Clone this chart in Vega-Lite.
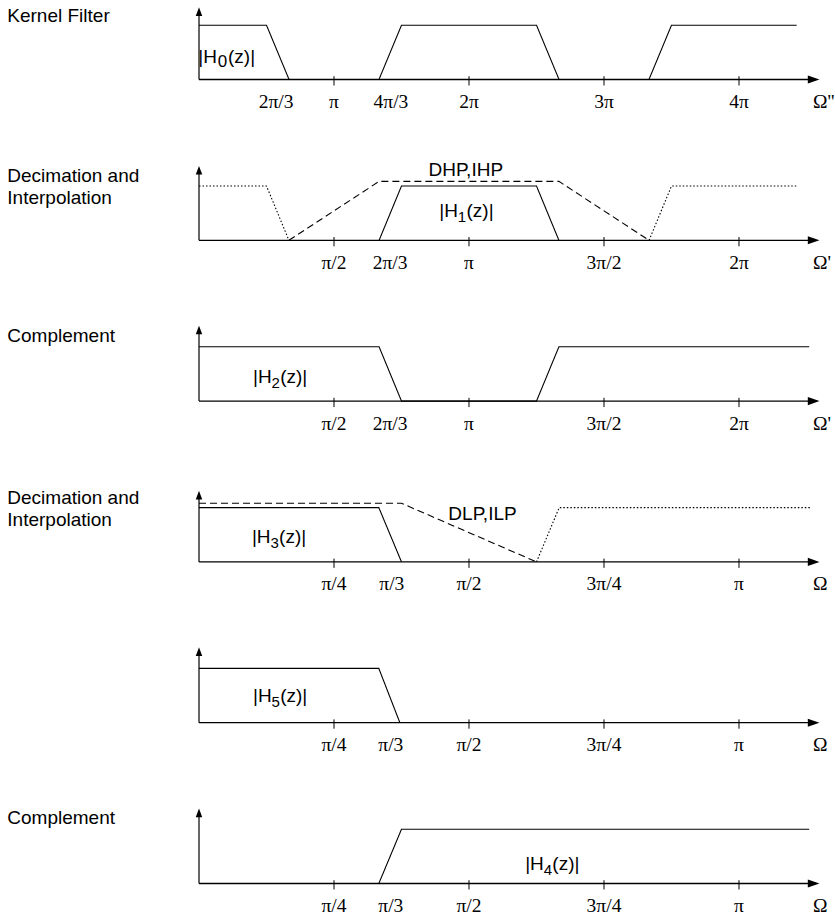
{
  "$schema": "https://vega.github.io/schema/vega-lite/v6.json",
  "padding": {"top": 1.5, "left": 0, "right": 0, "bottom": 0},
  "background": "white",
  "bounds": "flush",
  "spacing": 48.8,
  "config": {"view": {"stroke": null}},
  "resolve": {"scale": {"x": "independent", "y": "independent", "strokeDash": "independent"}},
  "vconcat": [
    {
      "width": 835, "height": 112,
      "layer": [
        {"data": {"values": [{}]}, "mark": {"type": "rule", "color": "black", "strokeWidth": 1.3}, "encoding": {"x": {"datum": 0, "type": "quantitative", "scale": {"domain": [-1.4741, 4.7111], "nice": false, "zero": false}, "axis": null}, "x2": {"datum": 4.53}, "y": {"datum": 0, "type": "quantitative", "scale": {"domain": [-0.626, 1.4365], "nice": false, "zero": false}, "axis": null}}},
        {"data": {"values": [{}]}, "mark": {"type": "rule", "color": "black", "strokeWidth": 1.2}, "encoding": {"x": {"datum": 0, "type": "quantitative", "scale": {"domain": [-1.4741, 4.7111], "nice": false, "zero": false}, "axis": null}, "y": {"datum": 0, "type": "quantitative", "scale": {"domain": [-0.626, 1.4365], "nice": false, "zero": false}, "axis": null}, "y2": {"datum": 1.24}}},
        {"data": {"values": [{}]}, "mark": {"type": "point", "shape": "M0,0L-2,-0.7L-2,0.7Z", "filled": true, "color": "black", "opacity": 1, "size": 135}, "encoding": {"x": {"datum": 4.596, "type": "quantitative", "scale": {"domain": [-1.4741, 4.7111], "nice": false, "zero": false}, "axis": null}, "y": {"datum": 0, "type": "quantitative", "scale": {"domain": [-0.626, 1.4365], "nice": false, "zero": false}, "axis": null}}},
        {"data": {"values": [{}]}, "mark": {"type": "point", "shape": "M0,0L0.75,2L-0.75,2Z", "filled": true, "color": "black", "opacity": 1, "size": 75}, "encoding": {"x": {"datum": 0, "type": "quantitative", "scale": {"domain": [-1.4741, 4.7111], "nice": false, "zero": false}, "axis": null}, "y": {"datum": 1.33, "type": "quantitative", "scale": {"domain": [-0.626, 1.4365], "nice": false, "zero": false}, "axis": null}}},
        {"data": {"values": [{"x": 1, "label": "π"}, {"x": 2, "label": "2π"}, {"x": 3, "label": "3π"}, {"x": 4, "label": "4π"}]}, "mark": {"type": "rule", "color": "black", "strokeWidth": 1}, "encoding": {"x": {"field": "x", "type": "quantitative", "scale": {"domain": [-1.4741, 4.7111], "nice": false, "zero": false}, "axis": null}, "y": {"datum": 0.061, "type": "quantitative", "scale": {"domain": [-0.626, 1.4365], "nice": false, "zero": false}, "axis": null}, "y2": {"datum": -0.11}}},
        {"data": {"values": [{"x": 1, "label": "π"}, {"x": 2, "label": "2π"}, {"x": 3, "label": "3π"}, {"x": 4, "label": "4π"}]}, "mark": {"type": "text", "font": "Liberation Serif", "fontSize": 19.5, "dy": 28.5, "baseline": "alphabetic", "align": "center", "color": "black"}, "encoding": {"x": {"field": "x", "type": "quantitative", "scale": {"domain": [-1.4741, 4.7111], "nice": false, "zero": false}, "axis": null}, "y": {"datum": 0, "type": "quantitative", "scale": {"domain": [-0.626, 1.4365], "nice": false, "zero": false}, "axis": null}, "text": {"field": "label"}}},
        {"data": {"values": [{"x": 0.667, "label": "2π/3"}]}, "mark": {"type": "text", "font": "Liberation Serif", "fontSize": 19.5, "dy": 28.5, "dx": -13, "baseline": "alphabetic", "align": "center", "color": "black"}, "encoding": {"x": {"field": "x", "type": "quantitative", "scale": {"domain": [-1.4741, 4.7111], "nice": false, "zero": false}, "axis": null}, "y": {"datum": 0, "type": "quantitative", "scale": {"domain": [-0.626, 1.4365], "nice": false, "zero": false}, "axis": null}, "text": {"field": "label"}}},
        {"data": {"values": [{"x": 1.333, "label": "4π/3"}]}, "mark": {"type": "text", "font": "Liberation Serif", "fontSize": 19.5, "dy": 28.5, "dx": 12, "baseline": "alphabetic", "align": "center", "color": "black"}, "encoding": {"x": {"field": "x", "type": "quantitative", "scale": {"domain": [-1.4741, 4.7111], "nice": false, "zero": false}, "axis": null}, "y": {"datum": 0, "type": "quantitative", "scale": {"domain": [-0.626, 1.4365], "nice": false, "zero": false}, "axis": null}, "text": {"field": "label"}}},
        {"data": {"values": [{"x": 4.548, "label": "Ω''"}]}, "mark": {"type": "text", "font": "Liberation Serif", "fontSize": 19.5, "dy": 28.5, "baseline": "alphabetic", "align": "left", "color": "black"}, "encoding": {"x": {"field": "x", "type": "quantitative", "scale": {"domain": [-1.4741, 4.7111], "nice": false, "zero": false}, "axis": null}, "y": {"datum": 0, "type": "quantitative", "scale": {"domain": [-0.626, 1.4365], "nice": false, "zero": false}, "axis": null}, "text": {"field": "label"}}},
        {"data": {"values": [
          {"x": 0, "y": 1, "role": "filter", "piece": "H0"}, {"x": 0.5, "y": 1, "role": "filter", "piece": "H0"},
          {"x": 0.667, "y": 0, "role": "filter", "piece": "H0"}, {"x": 1.333, "y": 0, "role": "filter", "piece": "H0"},
          {"x": 1.5, "y": 1, "role": "filter", "piece": "H0"}, {"x": 2.5, "y": 1, "role": "filter", "piece": "H0"},
          {"x": 2.667, "y": 0, "role": "filter", "piece": "H0"}, {"x": 3.333, "y": 0, "role": "filter", "piece": "H0"},
          {"x": 3.5, "y": 1, "role": "filter", "piece": "H0"}, {"x": 4.427, "y": 1, "role": "filter", "piece": "H0"}
         ]},
         "mark": {"type": "line", "color": "black", "strokeWidth": 1.1},
         "encoding": {"x": {"field": "x", "type": "quantitative", "scale": {"domain": [-1.4741, 4.7111], "nice": false, "zero": false}, "axis": null}, "y": {"field": "y", "type": "quantitative", "scale": {"domain": [-0.626, 1.4365], "nice": false, "zero": false}, "axis": null}, "detail": {"field": "piece"}, "strokeDash": {"field": "role", "type": "nominal", "scale": {"domain": ["filter", "bound", "image"], "range": [[1, 0], [7, 4], [1.5, 2]]}, "legend": null}}},
        {"data": {"values": [{"x": 0.174, "y": 0.295, "pre": "|H", "sub": "0", "post": "(z)|"}]},
         "encoding": {"x": {"field": "x", "type": "quantitative", "scale": {"domain": [-1.4741, 4.7111], "nice": false, "zero": false}, "axis": null}, "y": {"field": "y", "type": "quantitative", "scale": {"domain": [-0.626, 1.4365], "nice": false, "zero": false}, "axis": null}},
         "layer": [
           {"mark": {"type": "text", "font": "Liberation Sans", "fontSize": 19, "baseline": "alphabetic", "align": "right", "dx": -5.5, "color": "black"}, "encoding": {"text": {"field": "pre"}}},
           {"mark": {"type": "text", "font": "Liberation Sans", "fontSize": 17, "baseline": "alphabetic", "align": "center", "dy": 4, "color": "black"}, "encoding": {"text": {"field": "sub"}}},
           {"mark": {"type": "text", "font": "Liberation Sans", "fontSize": 19, "baseline": "alphabetic", "align": "left", "dx": 5.5, "color": "black"}, "encoding": {"text": {"field": "post"}}}
         ]},
        {"data": {"values": [{"x": -1.42, "y": 1.061, "label": "Kernel Filter"}]}, "mark": {"type": "text", "font": "Liberation Sans", "fontSize": 19, "baseline": "alphabetic", "align": "left", "color": "black"}, "encoding": {"x": {"field": "x", "type": "quantitative", "scale": {"domain": [-1.4741, 4.7111], "nice": false, "zero": false}, "axis": null}, "y": {"field": "y", "type": "quantitative", "scale": {"domain": [-0.626, 1.4365], "nice": false, "zero": false}, "axis": null}, "text": {"field": "label"}}}
      ]
    },
    {
      "width": 835, "height": 112,
      "layer": [
        {"data": {"values": [{}]}, "mark": {"type": "rule", "color": "black", "strokeWidth": 1.3}, "encoding": {"x": {"datum": 0, "type": "quantitative", "scale": {"domain": [-0.73704, 2.35556], "nice": false, "zero": false}, "axis": null}, "x2": {"datum": 2.265}, "y": {"datum": 0, "type": "quantitative", "scale": {"domain": [-0.626, 1.4365], "nice": false, "zero": false}, "axis": null}}},
        {"data": {"values": [{}]}, "mark": {"type": "rule", "color": "black", "strokeWidth": 1.2}, "encoding": {"x": {"datum": 0, "type": "quantitative", "scale": {"domain": [-0.73704, 2.35556], "nice": false, "zero": false}, "axis": null}, "y": {"datum": 0, "type": "quantitative", "scale": {"domain": [-0.626, 1.4365], "nice": false, "zero": false}, "axis": null}, "y2": {"datum": 1.28}}},
        {"data": {"values": [{}]}, "mark": {"type": "point", "shape": "M0,0L-2,-0.7L-2,0.7Z", "filled": true, "color": "black", "opacity": 1, "size": 135}, "encoding": {"x": {"datum": 2.298, "type": "quantitative", "scale": {"domain": [-0.73704, 2.35556], "nice": false, "zero": false}, "axis": null}, "y": {"datum": 0, "type": "quantitative", "scale": {"domain": [-0.626, 1.4365], "nice": false, "zero": false}, "axis": null}}},
        {"data": {"values": [{}]}, "mark": {"type": "point", "shape": "M0,0L0.75,2L-0.75,2Z", "filled": true, "color": "black", "opacity": 1, "size": 75}, "encoding": {"x": {"datum": 0, "type": "quantitative", "scale": {"domain": [-0.73704, 2.35556], "nice": false, "zero": false}, "axis": null}, "y": {"datum": 1.37, "type": "quantitative", "scale": {"domain": [-0.626, 1.4365], "nice": false, "zero": false}, "axis": null}}},
        {"data": {"values": [{"x": 0.5, "label": "π/2"}, {"x": 1, "label": "π"}, {"x": 1.5, "label": "3π/2"}, {"x": 2, "label": "2π"}]}, "mark": {"type": "rule", "color": "black", "strokeWidth": 1}, "encoding": {"x": {"field": "x", "type": "quantitative", "scale": {"domain": [-0.73704, 2.35556], "nice": false, "zero": false}, "axis": null}, "y": {"datum": 0.061, "type": "quantitative", "scale": {"domain": [-0.626, 1.4365], "nice": false, "zero": false}, "axis": null}, "y2": {"datum": -0.11}}},
        {"data": {"values": [{"x": 0.5, "label": "π/2"}, {"x": 1, "label": "π"}, {"x": 1.5, "label": "3π/2"}, {"x": 2, "label": "2π"}]}, "mark": {"type": "text", "font": "Liberation Serif", "fontSize": 19.5, "dy": 28.5, "baseline": "alphabetic", "align": "center", "color": "black"}, "encoding": {"x": {"field": "x", "type": "quantitative", "scale": {"domain": [-0.73704, 2.35556], "nice": false, "zero": false}, "axis": null}, "y": {"datum": 0, "type": "quantitative", "scale": {"domain": [-0.626, 1.4365], "nice": false, "zero": false}, "axis": null}, "text": {"field": "label"}}},
        {"data": {"values": [{"x": 0.667, "label": "2π/3"}]}, "mark": {"type": "text", "font": "Liberation Serif", "fontSize": 19.5, "dy": 28.5, "dx": 11, "baseline": "alphabetic", "align": "center", "color": "black"}, "encoding": {"x": {"field": "x", "type": "quantitative", "scale": {"domain": [-0.73704, 2.35556], "nice": false, "zero": false}, "axis": null}, "y": {"datum": 0, "type": "quantitative", "scale": {"domain": [-0.626, 1.4365], "nice": false, "zero": false}, "axis": null}, "text": {"field": "label"}}},
        {"data": {"values": [{"x": 2.274, "label": "Ω'"}]}, "mark": {"type": "text", "font": "Liberation Serif", "fontSize": 19.5, "dy": 28.5, "baseline": "alphabetic", "align": "left", "color": "black"}, "encoding": {"x": {"field": "x", "type": "quantitative", "scale": {"domain": [-0.73704, 2.35556], "nice": false, "zero": false}, "axis": null}, "y": {"datum": 0, "type": "quantitative", "scale": {"domain": [-0.626, 1.4365], "nice": false, "zero": false}, "axis": null}, "text": {"field": "label"}}},
        {"data": {"values": [
          {"x": 0, "y": 1, "role": "image", "piece": "imgL"}, {"x": 0.25, "y": 1, "role": "image", "piece": "imgL"}, {"x": 0.333, "y": 0, "role": "image", "piece": "imgL"},
          {"x": 0.333, "y": 0, "role": "bound", "piece": "bound"}, {"x": 0.667, "y": 1.085, "role": "bound", "piece": "bound"}, {"x": 1.333, "y": 1.085, "role": "bound", "piece": "bound"}, {"x": 1.667, "y": 0, "role": "bound", "piece": "bound"},
          {"x": 0.667, "y": 0, "role": "filter", "piece": "H1"}, {"x": 0.75, "y": 1, "role": "filter", "piece": "H1"}, {"x": 1.25, "y": 1, "role": "filter", "piece": "H1"}, {"x": 1.333, "y": 0, "role": "filter", "piece": "H1"},
          {"x": 1.667, "y": 0, "role": "image", "piece": "imgR"}, {"x": 1.75, "y": 1, "role": "image", "piece": "imgR"}, {"x": 2.215, "y": 1, "role": "image", "piece": "imgR"}
         ]},
         "mark": {"type": "line", "color": "black", "strokeWidth": 1.1},
         "encoding": {"x": {"field": "x", "type": "quantitative", "scale": {"domain": [-0.73704, 2.35556], "nice": false, "zero": false}, "axis": null}, "y": {"field": "y", "type": "quantitative", "scale": {"domain": [-0.626, 1.4365], "nice": false, "zero": false}, "axis": null}, "detail": {"field": "piece"}, "strokeDash": {"field": "role", "type": "nominal", "scale": {"domain": ["filter", "bound", "image"], "range": [[1, 0], [7, 4], [1.5, 2]]}, "legend": null}}},
        {"data": {"values": [{"x": 0.988, "y": 1.184, "label": "DHP,IHP"}]}, "mark": {"type": "text", "font": "Liberation Sans", "fontSize": 19, "baseline": "alphabetic", "align": "center", "color": "black"}, "encoding": {"x": {"field": "x", "type": "quantitative", "scale": {"domain": [-0.73704, 2.35556], "nice": false, "zero": false}, "axis": null}, "y": {"field": "y", "type": "quantitative", "scale": {"domain": [-0.626, 1.4365], "nice": false, "zero": false}, "axis": null}, "text": {"field": "label"}}},
        {"data": {"values": [{"x": 0.974, "y": 0.424, "pre": "|H", "sub": "1", "post": "(z)|"}]},
         "encoding": {"x": {"field": "x", "type": "quantitative", "scale": {"domain": [-0.73704, 2.35556], "nice": false, "zero": false}, "axis": null}, "y": {"field": "y", "type": "quantitative", "scale": {"domain": [-0.626, 1.4365], "nice": false, "zero": false}, "axis": null}},
         "layer": [
           {"mark": {"type": "text", "font": "Liberation Sans", "fontSize": 19, "baseline": "alphabetic", "align": "right", "dx": -4, "color": "black"}, "encoding": {"text": {"field": "pre"}}},
           {"mark": {"type": "text", "font": "Liberation Sans", "fontSize": 15, "baseline": "alphabetic", "align": "center", "dy": 5, "color": "black"}, "encoding": {"text": {"field": "sub"}}},
           {"mark": {"type": "text", "font": "Liberation Sans", "fontSize": 19, "baseline": "alphabetic", "align": "left", "dx": 4.5, "color": "black"}, "encoding": {"text": {"field": "post"}}}
         ]},
        {"data": {"values": [{"x": -0.71, "y": 1.07, "label": "Decimation and"}, {"x": -0.71, "y": 0.66, "label": "Interpolation"}]}, "mark": {"type": "text", "font": "Liberation Sans", "fontSize": 19, "baseline": "alphabetic", "align": "left", "color": "black"}, "encoding": {"x": {"field": "x", "type": "quantitative", "scale": {"domain": [-0.73704, 2.35556], "nice": false, "zero": false}, "axis": null}, "y": {"field": "y", "type": "quantitative", "scale": {"domain": [-0.626, 1.4365], "nice": false, "zero": false}, "axis": null}, "text": {"field": "label"}}}
      ]
    },
    {
      "width": 835, "height": 112,
      "layer": [
        {"data": {"values": [{}]}, "mark": {"type": "rule", "color": "black", "strokeWidth": 1.3}, "encoding": {"x": {"datum": 0, "type": "quantitative", "scale": {"domain": [-0.73704, 2.35556], "nice": false, "zero": false}, "axis": null}, "x2": {"datum": 2.265}, "y": {"datum": 0, "type": "quantitative", "scale": {"domain": [-0.626, 1.4365], "nice": false, "zero": false}, "axis": null}}},
        {"data": {"values": [{}]}, "mark": {"type": "rule", "color": "black", "strokeWidth": 1.2}, "encoding": {"x": {"datum": 0, "type": "quantitative", "scale": {"domain": [-0.73704, 2.35556], "nice": false, "zero": false}, "axis": null}, "y": {"datum": 0, "type": "quantitative", "scale": {"domain": [-0.626, 1.4365], "nice": false, "zero": false}, "axis": null}, "y2": {"datum": 1.3}}},
        {"data": {"values": [{}]}, "mark": {"type": "point", "shape": "M0,0L-2,-0.7L-2,0.7Z", "filled": true, "color": "black", "opacity": 1, "size": 135}, "encoding": {"x": {"datum": 2.298, "type": "quantitative", "scale": {"domain": [-0.73704, 2.35556], "nice": false, "zero": false}, "axis": null}, "y": {"datum": 0, "type": "quantitative", "scale": {"domain": [-0.626, 1.4365], "nice": false, "zero": false}, "axis": null}}},
        {"data": {"values": [{}]}, "mark": {"type": "point", "shape": "M0,0L0.75,2L-0.75,2Z", "filled": true, "color": "black", "opacity": 1, "size": 75}, "encoding": {"x": {"datum": 0, "type": "quantitative", "scale": {"domain": [-0.73704, 2.35556], "nice": false, "zero": false}, "axis": null}, "y": {"datum": 1.39, "type": "quantitative", "scale": {"domain": [-0.626, 1.4365], "nice": false, "zero": false}, "axis": null}}},
        {"data": {"values": [{"x": 0.5, "label": "π/2"}, {"x": 1, "label": "π"}, {"x": 1.5, "label": "3π/2"}, {"x": 2, "label": "2π"}]}, "mark": {"type": "rule", "color": "black", "strokeWidth": 1}, "encoding": {"x": {"field": "x", "type": "quantitative", "scale": {"domain": [-0.73704, 2.35556], "nice": false, "zero": false}, "axis": null}, "y": {"datum": 0.061, "type": "quantitative", "scale": {"domain": [-0.626, 1.4365], "nice": false, "zero": false}, "axis": null}, "y2": {"datum": -0.11}}},
        {"data": {"values": [{"x": 0.5, "label": "π/2"}, {"x": 1, "label": "π"}, {"x": 1.5, "label": "3π/2"}, {"x": 2, "label": "2π"}]}, "mark": {"type": "text", "font": "Liberation Serif", "fontSize": 19.5, "dy": 28.5, "baseline": "alphabetic", "align": "center", "color": "black"}, "encoding": {"x": {"field": "x", "type": "quantitative", "scale": {"domain": [-0.73704, 2.35556], "nice": false, "zero": false}, "axis": null}, "y": {"datum": 0, "type": "quantitative", "scale": {"domain": [-0.626, 1.4365], "nice": false, "zero": false}, "axis": null}, "text": {"field": "label"}}},
        {"data": {"values": [{"x": 0.667, "label": "2π/3"}]}, "mark": {"type": "text", "font": "Liberation Serif", "fontSize": 19.5, "dy": 28.5, "dx": 11, "baseline": "alphabetic", "align": "center", "color": "black"}, "encoding": {"x": {"field": "x", "type": "quantitative", "scale": {"domain": [-0.73704, 2.35556], "nice": false, "zero": false}, "axis": null}, "y": {"datum": 0, "type": "quantitative", "scale": {"domain": [-0.626, 1.4365], "nice": false, "zero": false}, "axis": null}, "text": {"field": "label"}}},
        {"data": {"values": [{"x": 2.274, "label": "Ω'"}]}, "mark": {"type": "text", "font": "Liberation Serif", "fontSize": 19.5, "dy": 28.5, "baseline": "alphabetic", "align": "left", "color": "black"}, "encoding": {"x": {"field": "x", "type": "quantitative", "scale": {"domain": [-0.73704, 2.35556], "nice": false, "zero": false}, "axis": null}, "y": {"datum": 0, "type": "quantitative", "scale": {"domain": [-0.626, 1.4365], "nice": false, "zero": false}, "axis": null}, "text": {"field": "label"}}},
        {"data": {"values": [
          {"x": 0, "y": 1, "role": "filter", "piece": "H2"}, {"x": 0.667, "y": 1, "role": "filter", "piece": "H2"},
          {"x": 0.75, "y": 0, "role": "filter", "piece": "H2"}, {"x": 1.25, "y": 0, "role": "filter", "piece": "H2"},
          {"x": 1.333, "y": 1, "role": "filter", "piece": "H2"}, {"x": 2.26, "y": 1, "role": "filter", "piece": "H2"}
         ]},
         "mark": {"type": "line", "color": "black", "strokeWidth": 1.1},
         "encoding": {"x": {"field": "x", "type": "quantitative", "scale": {"domain": [-0.73704, 2.35556], "nice": false, "zero": false}, "axis": null}, "y": {"field": "y", "type": "quantitative", "scale": {"domain": [-0.626, 1.4365], "nice": false, "zero": false}, "axis": null}, "detail": {"field": "piece"}, "strokeDash": {"field": "role", "type": "nominal", "scale": {"domain": ["filter", "bound", "image"], "range": [[1, 0], [7, 4], [1.5, 2]]}, "legend": null}}},
        {"data": {"values": [{"x": 0.284, "y": 0.33, "pre": "|H", "sub": "2", "post": "(z)|"}]},
         "encoding": {"x": {"field": "x", "type": "quantitative", "scale": {"domain": [-0.73704, 2.35556], "nice": false, "zero": false}, "axis": null}, "y": {"field": "y", "type": "quantitative", "scale": {"domain": [-0.626, 1.4365], "nice": false, "zero": false}, "axis": null}},
         "layer": [
           {"mark": {"type": "text", "font": "Liberation Sans", "fontSize": 19, "baseline": "alphabetic", "align": "right", "dx": -4, "color": "black"}, "encoding": {"text": {"field": "pre"}}},
           {"mark": {"type": "text", "font": "Liberation Sans", "fontSize": 15, "baseline": "alphabetic", "align": "center", "dy": 5, "color": "black"}, "encoding": {"text": {"field": "sub"}}},
           {"mark": {"type": "text", "font": "Liberation Sans", "fontSize": 19, "baseline": "alphabetic", "align": "left", "dx": 4.5, "color": "black"}, "encoding": {"text": {"field": "post"}}}
         ]},
        {"data": {"values": [{"x": -0.71, "y": 1.08, "label": "Complement"}]}, "mark": {"type": "text", "font": "Liberation Sans", "fontSize": 19, "baseline": "alphabetic", "align": "left", "color": "black"}, "encoding": {"x": {"field": "x", "type": "quantitative", "scale": {"domain": [-0.73704, 2.35556], "nice": false, "zero": false}, "axis": null}, "y": {"field": "y", "type": "quantitative", "scale": {"domain": [-0.626, 1.4365], "nice": false, "zero": false}, "axis": null}, "text": {"field": "label"}}}
      ]
    },
    {
      "width": 835, "height": 112,
      "layer": [
        {"data": {"values": [{}]}, "mark": {"type": "rule", "color": "black", "strokeWidth": 1.3}, "encoding": {"x": {"datum": 0, "type": "quantitative", "scale": {"domain": [-0.36852, 1.17778], "nice": false, "zero": false}, "axis": null}, "x2": {"datum": 1.1325}, "y": {"datum": 0, "type": "quantitative", "scale": {"domain": [-0.626, 1.4365], "nice": false, "zero": false}, "axis": null}}},
        {"data": {"values": [{}]}, "mark": {"type": "rule", "color": "black", "strokeWidth": 1.2}, "encoding": {"x": {"datum": 0, "type": "quantitative", "scale": {"domain": [-0.36852, 1.17778], "nice": false, "zero": false}, "axis": null}, "y": {"datum": 0, "type": "quantitative", "scale": {"domain": [-0.626, 1.4365], "nice": false, "zero": false}, "axis": null}, "y2": {"datum": 1.22}}},
        {"data": {"values": [{}]}, "mark": {"type": "point", "shape": "M0,0L-2,-0.7L-2,0.7Z", "filled": true, "color": "black", "opacity": 1, "size": 135}, "encoding": {"x": {"datum": 1.149, "type": "quantitative", "scale": {"domain": [-0.36852, 1.17778], "nice": false, "zero": false}, "axis": null}, "y": {"datum": 0, "type": "quantitative", "scale": {"domain": [-0.626, 1.4365], "nice": false, "zero": false}, "axis": null}}},
        {"data": {"values": [{}]}, "mark": {"type": "point", "shape": "M0,0L0.75,2L-0.75,2Z", "filled": true, "color": "black", "opacity": 1, "size": 75}, "encoding": {"x": {"datum": 0, "type": "quantitative", "scale": {"domain": [-0.36852, 1.17778], "nice": false, "zero": false}, "axis": null}, "y": {"datum": 1.31, "type": "quantitative", "scale": {"domain": [-0.626, 1.4365], "nice": false, "zero": false}, "axis": null}}},
        {"data": {"values": [{"x": 0.25, "label": "π/4"}, {"x": 0.5, "label": "π/2"}, {"x": 0.75, "label": "3π/4"}, {"x": 1, "label": "π"}]}, "mark": {"type": "rule", "color": "black", "strokeWidth": 1}, "encoding": {"x": {"field": "x", "type": "quantitative", "scale": {"domain": [-0.36852, 1.17778], "nice": false, "zero": false}, "axis": null}, "y": {"datum": 0.061, "type": "quantitative", "scale": {"domain": [-0.626, 1.4365], "nice": false, "zero": false}, "axis": null}, "y2": {"datum": -0.11}}},
        {"data": {"values": [{"x": 0.25, "label": "π/4"}, {"x": 0.5, "label": "π/2"}, {"x": 0.75, "label": "3π/4"}, {"x": 1, "label": "π"}]}, "mark": {"type": "text", "font": "Liberation Serif", "fontSize": 19.5, "dy": 28.5, "baseline": "alphabetic", "align": "center", "color": "black"}, "encoding": {"x": {"field": "x", "type": "quantitative", "scale": {"domain": [-0.36852, 1.17778], "nice": false, "zero": false}, "axis": null}, "y": {"datum": 0, "type": "quantitative", "scale": {"domain": [-0.626, 1.4365], "nice": false, "zero": false}, "axis": null}, "text": {"field": "label"}}},
        {"data": {"values": [{"x": 0.333, "label": "π/3"}]}, "mark": {"type": "text", "font": "Liberation Serif", "fontSize": 19.5, "dy": 28.5, "dx": 13, "baseline": "alphabetic", "align": "center", "color": "black"}, "encoding": {"x": {"field": "x", "type": "quantitative", "scale": {"domain": [-0.36852, 1.17778], "nice": false, "zero": false}, "axis": null}, "y": {"datum": 0, "type": "quantitative", "scale": {"domain": [-0.626, 1.4365], "nice": false, "zero": false}, "axis": null}, "text": {"field": "label"}}},
        {"data": {"values": [{"x": 1.137, "label": "Ω"}]}, "mark": {"type": "text", "font": "Liberation Serif", "fontSize": 19.5, "dy": 28.5, "baseline": "alphabetic", "align": "left", "color": "black"}, "encoding": {"x": {"field": "x", "type": "quantitative", "scale": {"domain": [-0.36852, 1.17778], "nice": false, "zero": false}, "axis": null}, "y": {"datum": 0, "type": "quantitative", "scale": {"domain": [-0.626, 1.4365], "nice": false, "zero": false}, "axis": null}, "text": {"field": "label"}}},
        {"data": {"values": [
          {"x": 0, "y": 1.08, "role": "bound", "piece": "bound"}, {"x": 0.375, "y": 1.08, "role": "bound", "piece": "bound"}, {"x": 0.625, "y": 0, "role": "bound", "piece": "bound"},
          {"x": 0, "y": 1, "role": "filter", "piece": "H3"}, {"x": 0.333, "y": 1, "role": "filter", "piece": "H3"}, {"x": 0.375, "y": 0, "role": "filter", "piece": "H3"},
          {"x": 0.625, "y": 0, "role": "image", "piece": "img"}, {"x": 0.667, "y": 1, "role": "image", "piece": "img"}, {"x": 1.133, "y": 1, "role": "image", "piece": "img"}
         ]},
         "mark": {"type": "line", "color": "black", "strokeWidth": 1.1},
         "encoding": {"x": {"field": "x", "type": "quantitative", "scale": {"domain": [-0.36852, 1.17778], "nice": false, "zero": false}, "axis": null}, "y": {"field": "y", "type": "quantitative", "scale": {"domain": [-0.626, 1.4365], "nice": false, "zero": false}, "axis": null}, "detail": {"field": "piece"}, "strokeDash": {"field": "role", "type": "nominal", "scale": {"domain": ["filter", "bound", "image"], "range": [[1, 0], [7, 4], [1.5, 2]]}, "legend": null}}},
        {"data": {"values": [{"x": 0.525, "y": 0.773, "label": "DLP,ILP"}]}, "mark": {"type": "text", "font": "Liberation Sans", "fontSize": 19, "baseline": "alphabetic", "align": "center", "color": "black"}, "encoding": {"x": {"field": "x", "type": "quantitative", "scale": {"domain": [-0.36852, 1.17778], "nice": false, "zero": false}, "axis": null}, "y": {"field": "y", "type": "quantitative", "scale": {"domain": [-0.626, 1.4365], "nice": false, "zero": false}, "axis": null}, "text": {"field": "label"}}},
        {"data": {"values": [{"x": 0.14, "y": 0.355, "pre": "|H", "sub": "3", "post": "(z)|"}]},
         "encoding": {"x": {"field": "x", "type": "quantitative", "scale": {"domain": [-0.36852, 1.17778], "nice": false, "zero": false}, "axis": null}, "y": {"field": "y", "type": "quantitative", "scale": {"domain": [-0.626, 1.4365], "nice": false, "zero": false}, "axis": null}},
         "layer": [
           {"mark": {"type": "text", "font": "Liberation Sans", "fontSize": 19, "baseline": "alphabetic", "align": "right", "dx": -4, "color": "black"}, "encoding": {"text": {"field": "pre"}}},
           {"mark": {"type": "text", "font": "Liberation Sans", "fontSize": 15, "baseline": "alphabetic", "align": "center", "dy": 5, "color": "black"}, "encoding": {"text": {"field": "sub"}}},
           {"mark": {"type": "text", "font": "Liberation Sans", "fontSize": 19, "baseline": "alphabetic", "align": "left", "dx": 4.5, "color": "black"}, "encoding": {"text": {"field": "post"}}}
         ]},
        {"data": {"values": [{"x": -0.355, "y": 1.07, "label": "Decimation and"}, {"x": -0.355, "y": 0.66, "label": "Interpolation"}]}, "mark": {"type": "text", "font": "Liberation Sans", "fontSize": 19, "baseline": "alphabetic", "align": "left", "color": "black"}, "encoding": {"x": {"field": "x", "type": "quantitative", "scale": {"domain": [-0.36852, 1.17778], "nice": false, "zero": false}, "axis": null}, "y": {"field": "y", "type": "quantitative", "scale": {"domain": [-0.626, 1.4365], "nice": false, "zero": false}, "axis": null}, "text": {"field": "label"}}}
      ]
    },
    {
      "width": 835, "height": 112,
      "layer": [
        {"data": {"values": [{}]}, "mark": {"type": "rule", "color": "black", "strokeWidth": 1.3}, "encoding": {"x": {"datum": 0, "type": "quantitative", "scale": {"domain": [-0.36852, 1.17778], "nice": false, "zero": false}, "axis": null}, "x2": {"datum": 1.1325}, "y": {"datum": 0, "type": "quantitative", "scale": {"domain": [-0.626, 1.4365], "nice": false, "zero": false}, "axis": null}}},
        {"data": {"values": [{}]}, "mark": {"type": "rule", "color": "black", "strokeWidth": 1.2}, "encoding": {"x": {"datum": 0, "type": "quantitative", "scale": {"domain": [-0.36852, 1.17778], "nice": false, "zero": false}, "axis": null}, "y": {"datum": 0, "type": "quantitative", "scale": {"domain": [-0.626, 1.4365], "nice": false, "zero": false}, "axis": null}, "y2": {"datum": 1.3}}},
        {"data": {"values": [{}]}, "mark": {"type": "point", "shape": "M0,0L-2,-0.7L-2,0.7Z", "filled": true, "color": "black", "opacity": 1, "size": 135}, "encoding": {"x": {"datum": 1.149, "type": "quantitative", "scale": {"domain": [-0.36852, 1.17778], "nice": false, "zero": false}, "axis": null}, "y": {"datum": 0, "type": "quantitative", "scale": {"domain": [-0.626, 1.4365], "nice": false, "zero": false}, "axis": null}}},
        {"data": {"values": [{}]}, "mark": {"type": "point", "shape": "M0,0L0.75,2L-0.75,2Z", "filled": true, "color": "black", "opacity": 1, "size": 75}, "encoding": {"x": {"datum": 0, "type": "quantitative", "scale": {"domain": [-0.36852, 1.17778], "nice": false, "zero": false}, "axis": null}, "y": {"datum": 1.39, "type": "quantitative", "scale": {"domain": [-0.626, 1.4365], "nice": false, "zero": false}, "axis": null}}},
        {"data": {"values": [{"x": 0.25, "label": "π/4"}, {"x": 0.5, "label": "π/2"}, {"x": 0.75, "label": "3π/4"}, {"x": 1, "label": "π"}]}, "mark": {"type": "rule", "color": "black", "strokeWidth": 1}, "encoding": {"x": {"field": "x", "type": "quantitative", "scale": {"domain": [-0.36852, 1.17778], "nice": false, "zero": false}, "axis": null}, "y": {"datum": 0.061, "type": "quantitative", "scale": {"domain": [-0.626, 1.4365], "nice": false, "zero": false}, "axis": null}, "y2": {"datum": -0.11}}},
        {"data": {"values": [{"x": 0.25, "label": "π/4"}, {"x": 0.5, "label": "π/2"}, {"x": 0.75, "label": "3π/4"}, {"x": 1, "label": "π"}]}, "mark": {"type": "text", "font": "Liberation Serif", "fontSize": 19.5, "dy": 28.5, "baseline": "alphabetic", "align": "center", "color": "black"}, "encoding": {"x": {"field": "x", "type": "quantitative", "scale": {"domain": [-0.36852, 1.17778], "nice": false, "zero": false}, "axis": null}, "y": {"datum": 0, "type": "quantitative", "scale": {"domain": [-0.626, 1.4365], "nice": false, "zero": false}, "axis": null}, "text": {"field": "label"}}},
        {"data": {"values": [{"x": 0.333, "label": "π/3"}]}, "mark": {"type": "text", "font": "Liberation Serif", "fontSize": 19.5, "dy": 28.5, "dx": 12, "baseline": "alphabetic", "align": "center", "color": "black"}, "encoding": {"x": {"field": "x", "type": "quantitative", "scale": {"domain": [-0.36852, 1.17778], "nice": false, "zero": false}, "axis": null}, "y": {"datum": 0, "type": "quantitative", "scale": {"domain": [-0.626, 1.4365], "nice": false, "zero": false}, "axis": null}, "text": {"field": "label"}}},
        {"data": {"values": [{"x": 1.137, "label": "Ω"}]}, "mark": {"type": "text", "font": "Liberation Serif", "fontSize": 19.5, "dy": 28.5, "baseline": "alphabetic", "align": "left", "color": "black"}, "encoding": {"x": {"field": "x", "type": "quantitative", "scale": {"domain": [-0.36852, 1.17778], "nice": false, "zero": false}, "axis": null}, "y": {"datum": 0, "type": "quantitative", "scale": {"domain": [-0.626, 1.4365], "nice": false, "zero": false}, "axis": null}, "text": {"field": "label"}}},
        {"data": {"values": [
          {"x": 0, "y": 1, "role": "filter", "piece": "H5"}, {"x": 0.333, "y": 1, "role": "filter", "piece": "H5"}, {"x": 0.372, "y": 0, "role": "filter", "piece": "H5"}
         ]},
         "mark": {"type": "line", "color": "black", "strokeWidth": 1.1},
         "encoding": {"x": {"field": "x", "type": "quantitative", "scale": {"domain": [-0.36852, 1.17778], "nice": false, "zero": false}, "axis": null}, "y": {"field": "y", "type": "quantitative", "scale": {"domain": [-0.626, 1.4365], "nice": false, "zero": false}, "axis": null}, "detail": {"field": "piece"}, "strokeDash": {"field": "role", "type": "nominal", "scale": {"domain": ["filter", "bound", "image"], "range": [[1, 0], [7, 4], [1.5, 2]]}, "legend": null}}},
        {"data": {"values": [{"x": 0.142, "y": 0.387, "pre": "|H", "sub": "5", "post": "(z)|"}]},
         "encoding": {"x": {"field": "x", "type": "quantitative", "scale": {"domain": [-0.36852, 1.17778], "nice": false, "zero": false}, "axis": null}, "y": {"field": "y", "type": "quantitative", "scale": {"domain": [-0.626, 1.4365], "nice": false, "zero": false}, "axis": null}},
         "layer": [
           {"mark": {"type": "text", "font": "Liberation Sans", "fontSize": 19, "baseline": "alphabetic", "align": "right", "dx": -4, "color": "black"}, "encoding": {"text": {"field": "pre"}}},
           {"mark": {"type": "text", "font": "Liberation Sans", "fontSize": 15, "baseline": "alphabetic", "align": "center", "dy": 5, "color": "black"}, "encoding": {"text": {"field": "sub"}}},
           {"mark": {"type": "text", "font": "Liberation Sans", "fontSize": 19, "baseline": "alphabetic", "align": "left", "dx": 4.5, "color": "black"}, "encoding": {"text": {"field": "post"}}}
         ]}
      ]
    },
    {
      "width": 835, "height": 112,
      "layer": [
        {"data": {"values": [{}]}, "mark": {"type": "rule", "color": "black", "strokeWidth": 1.3}, "encoding": {"x": {"datum": 0, "type": "quantitative", "scale": {"domain": [-0.36852, 1.17778], "nice": false, "zero": false}, "axis": null}, "x2": {"datum": 1.1325}, "y": {"datum": 0, "type": "quantitative", "scale": {"domain": [-0.626, 1.4365], "nice": false, "zero": false}, "axis": null}}},
        {"data": {"values": [{}]}, "mark": {"type": "rule", "color": "black", "strokeWidth": 1.2}, "encoding": {"x": {"datum": 0, "type": "quantitative", "scale": {"domain": [-0.36852, 1.17778], "nice": false, "zero": false}, "axis": null}, "y": {"datum": 0, "type": "quantitative", "scale": {"domain": [-0.626, 1.4365], "nice": false, "zero": false}, "axis": null}, "y2": {"datum": 1.3}}},
        {"data": {"values": [{}]}, "mark": {"type": "point", "shape": "M0,0L-2,-0.7L-2,0.7Z", "filled": true, "color": "black", "opacity": 1, "size": 135}, "encoding": {"x": {"datum": 1.149, "type": "quantitative", "scale": {"domain": [-0.36852, 1.17778], "nice": false, "zero": false}, "axis": null}, "y": {"datum": 0, "type": "quantitative", "scale": {"domain": [-0.626, 1.4365], "nice": false, "zero": false}, "axis": null}}},
        {"data": {"values": [{}]}, "mark": {"type": "point", "shape": "M0,0L0.75,2L-0.75,2Z", "filled": true, "color": "black", "opacity": 1, "size": 75}, "encoding": {"x": {"datum": 0, "type": "quantitative", "scale": {"domain": [-0.36852, 1.17778], "nice": false, "zero": false}, "axis": null}, "y": {"datum": 1.38, "type": "quantitative", "scale": {"domain": [-0.626, 1.4365], "nice": false, "zero": false}, "axis": null}}},
        {"data": {"values": [{"x": 0.25, "label": "π/4"}, {"x": 0.5, "label": "π/2"}, {"x": 0.75, "label": "3π/4"}, {"x": 1, "label": "π"}]}, "mark": {"type": "rule", "color": "black", "strokeWidth": 1}, "encoding": {"x": {"field": "x", "type": "quantitative", "scale": {"domain": [-0.36852, 1.17778], "nice": false, "zero": false}, "axis": null}, "y": {"datum": 0.061, "type": "quantitative", "scale": {"domain": [-0.626, 1.4365], "nice": false, "zero": false}, "axis": null}, "y2": {"datum": -0.11}}},
        {"data": {"values": [{"x": 0.25, "label": "π/4"}, {"x": 0.5, "label": "π/2"}, {"x": 0.75, "label": "3π/4"}, {"x": 1, "label": "π"}]}, "mark": {"type": "text", "font": "Liberation Serif", "fontSize": 19.5, "dy": 28.5, "baseline": "alphabetic", "align": "center", "color": "black"}, "encoding": {"x": {"field": "x", "type": "quantitative", "scale": {"domain": [-0.36852, 1.17778], "nice": false, "zero": false}, "axis": null}, "y": {"datum": 0, "type": "quantitative", "scale": {"domain": [-0.626, 1.4365], "nice": false, "zero": false}, "axis": null}, "text": {"field": "label"}}},
        {"data": {"values": [{"x": 0.333, "label": "π/3"}]}, "mark": {"type": "text", "font": "Liberation Serif", "fontSize": 19.5, "dy": 28.5, "dx": 12, "baseline": "alphabetic", "align": "center", "color": "black"}, "encoding": {"x": {"field": "x", "type": "quantitative", "scale": {"domain": [-0.36852, 1.17778], "nice": false, "zero": false}, "axis": null}, "y": {"datum": 0, "type": "quantitative", "scale": {"domain": [-0.626, 1.4365], "nice": false, "zero": false}, "axis": null}, "text": {"field": "label"}}},
        {"data": {"values": [{"x": 1.137, "label": "Ω"}]}, "mark": {"type": "text", "font": "Liberation Serif", "fontSize": 19.5, "dy": 28.5, "baseline": "alphabetic", "align": "left", "color": "black"}, "encoding": {"x": {"field": "x", "type": "quantitative", "scale": {"domain": [-0.36852, 1.17778], "nice": false, "zero": false}, "axis": null}, "y": {"datum": 0, "type": "quantitative", "scale": {"domain": [-0.626, 1.4365], "nice": false, "zero": false}, "axis": null}, "text": {"field": "label"}}},
        {"data": {"values": [
          {"x": 0.333, "y": 0, "role": "filter", "piece": "H4"}, {"x": 0.375, "y": 1, "role": "filter", "piece": "H4"}, {"x": 1.13, "y": 1, "role": "filter", "piece": "H4"}
         ]},
         "mark": {"type": "line", "color": "black", "strokeWidth": 1.1},
         "encoding": {"x": {"field": "x", "type": "quantitative", "scale": {"domain": [-0.36852, 1.17778], "nice": false, "zero": false}, "axis": null}, "y": {"field": "y", "type": "quantitative", "scale": {"domain": [-0.626, 1.4365], "nice": false, "zero": false}, "axis": null}, "detail": {"field": "piece"}, "strokeDash": {"field": "role", "type": "nominal", "scale": {"domain": ["filter", "bound", "image"], "range": [[1, 0], [7, 4], [1.5, 2]]}, "legend": null}}},
        {"data": {"values": [{"x": 0.646, "y": 0.245, "pre": "|H", "sub": "4", "post": "(z)|"}]},
         "encoding": {"x": {"field": "x", "type": "quantitative", "scale": {"domain": [-0.36852, 1.17778], "nice": false, "zero": false}, "axis": null}, "y": {"field": "y", "type": "quantitative", "scale": {"domain": [-0.626, 1.4365], "nice": false, "zero": false}, "axis": null}},
         "layer": [
           {"mark": {"type": "text", "font": "Liberation Sans", "fontSize": 19, "baseline": "alphabetic", "align": "right", "dx": -4, "color": "black"}, "encoding": {"text": {"field": "pre"}}},
           {"mark": {"type": "text", "font": "Liberation Sans", "fontSize": 15, "baseline": "alphabetic", "align": "center", "dy": 5, "color": "black"}, "encoding": {"text": {"field": "sub"}}},
           {"mark": {"type": "text", "font": "Liberation Sans", "fontSize": 19, "baseline": "alphabetic", "align": "left", "dx": 4.5, "color": "black"}, "encoding": {"text": {"field": "post"}}}
         ]},
        {"data": {"values": [{"x": -0.355, "y": 1.09, "label": "Complement"}]}, "mark": {"type": "text", "font": "Liberation Sans", "fontSize": 19, "baseline": "alphabetic", "align": "left", "color": "black"}, "encoding": {"x": {"field": "x", "type": "quantitative", "scale": {"domain": [-0.36852, 1.17778], "nice": false, "zero": false}, "axis": null}, "y": {"field": "y", "type": "quantitative", "scale": {"domain": [-0.626, 1.4365], "nice": false, "zero": false}, "axis": null}, "text": {"field": "label"}}}
      ]
    }
  ]
}
